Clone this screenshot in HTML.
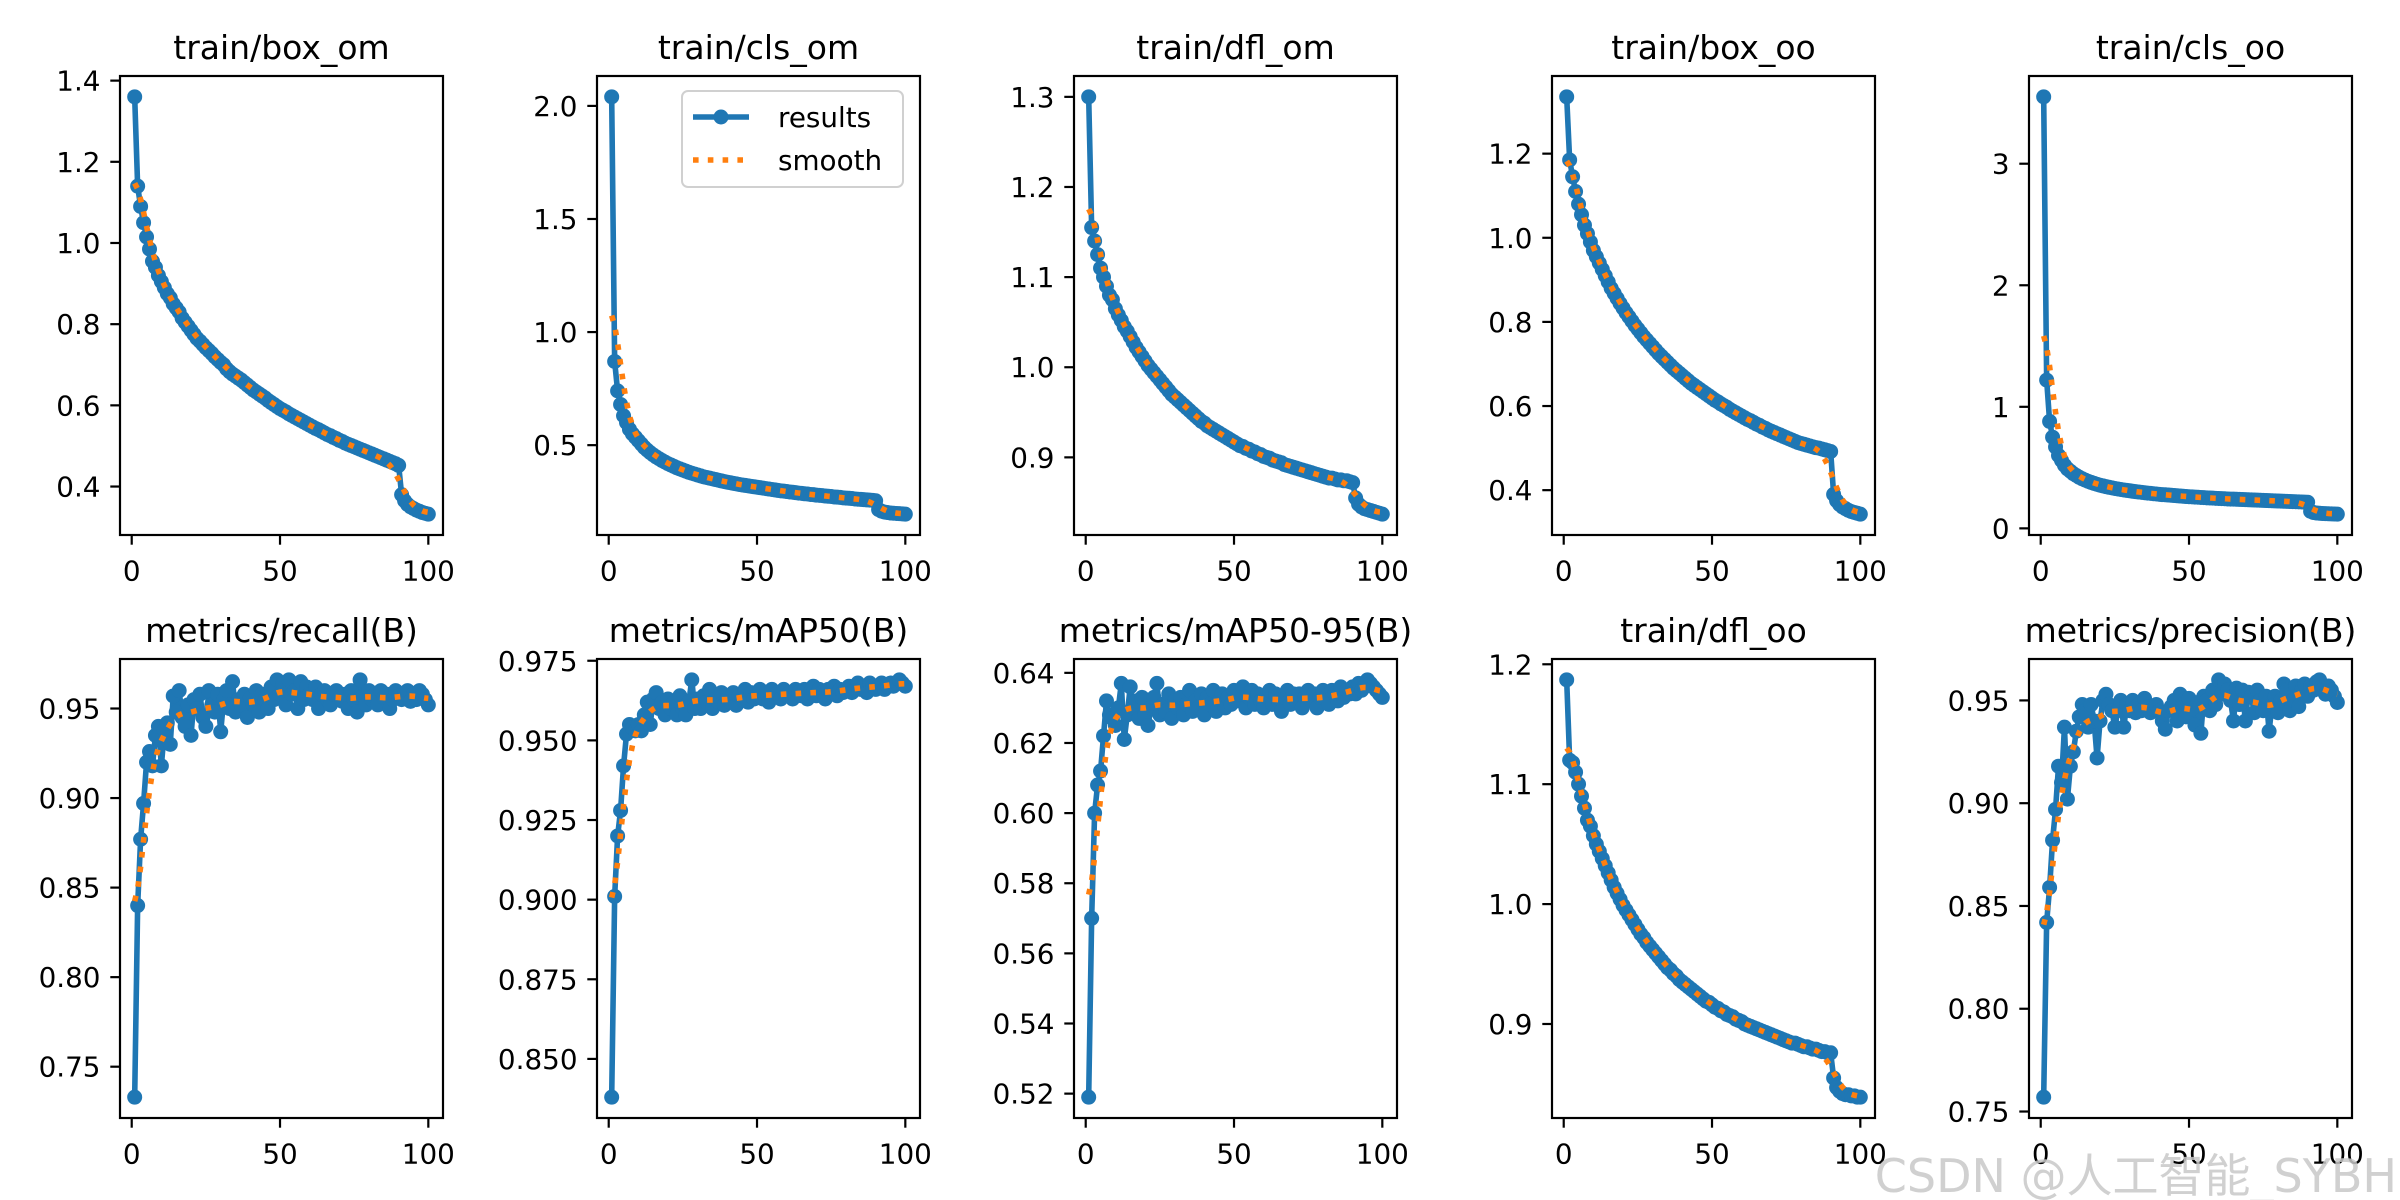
<!DOCTYPE html>
<html><head><meta charset="utf-8">
<style>
html,body{margin:0;padding:0;background:#fff;}
svg{display:block;font-family:"DejaVu Sans","Liberation Sans",sans-serif;}
</style></head>
<body>
<svg id="fig" width="2400" height="1200" viewBox="0 0 2400 1200" xmlns="http://www.w3.org/2000/svg">
<rect width="2400" height="1200" fill="#fff"/>
</svg>
<script>
const titles = ["train/box_om","train/cls_om","train/dfl_om","train/box_oo","train/cls_oo","metrics/recall(B)","metrics/mAP50(B)","metrics/mAP50-95(B)","train/dfl_oo","metrics/precision(B)"];
const xTicks = [0,50,100];
const yTicks0 = [0.4,0.6,0.8,1.0,1.2,1.4];
const yTicks1 = [0.5,1.0,1.5,2.0];
const yTicks2 = [0.9,1.0,1.1,1.2,1.3];
const yTicks3 = [0.4,0.6,0.8,1.0,1.2];
const yTicks4 = [0,1,2,3];
const yTicks5 = [0.75,0.80,0.85,0.90,0.95];
const yTicks6 = [0.85,0.875,0.9,0.925,0.95,0.975];
const yTicks7 = [0.52,0.54,0.56,0.58,0.60,0.62,0.64];
const yTicks8 = [0.9,1.0,1.1,1.2];
const yTicks9 = [0.75,0.80,0.85,0.90,0.95];
const yTickDecimals = [1,1,1,1,0,2,3,2,1,2];

const boxOm = [1.36,1.14,1.09,1.05,1.015,0.985,0.955,0.94,0.92,0.905,
0.89,0.875,0.865,0.85,0.84,0.83,0.815,0.805,0.795,0.785,
0.775,0.765,0.758,0.75,0.742,0.735,0.728,0.72,0.713,0.706,
0.70,0.69,0.683,0.677,0.672,0.667,0.662,0.656,0.65,0.644,
0.638,0.633,0.628,0.623,0.618,0.612,0.607,0.602,0.597,0.592,
0.588,0.584,0.579,0.575,0.571,0.567,0.563,0.559,0.555,0.551,
0.547,0.543,0.54,0.536,0.532,0.528,0.525,0.521,0.518,0.514,
0.511,0.507,0.504,0.501,0.498,0.495,0.492,0.489,0.486,0.483,
0.48,0.477,0.474,0.471,0.468,0.465,0.462,0.459,0.456,0.452,
0.38,0.365,0.356,0.35,0.346,0.342,0.339,0.336,0.334,0.332];
const clsOm = [2.04,0.87,0.74,0.68,0.63,0.6,0.57,0.55,0.535,0.52,
0.505,0.49,0.478,0.467,0.457,0.448,0.44,0.432,0.425,0.418,
0.412,0.406,0.4,0.395,0.39,0.385,0.38,0.376,0.372,0.368,
0.364,0.36,0.357,0.354,0.351,0.348,0.345,0.342,0.339,0.336,
0.334,0.331,0.329,0.326,0.324,0.322,0.32,0.318,0.316,0.314,
0.312,0.31,0.308,0.306,0.304,0.302,0.3,0.298,0.297,0.295,
0.293,0.292,0.29,0.288,0.287,0.285,0.284,0.282,0.281,0.279,
0.278,0.277,0.275,0.274,0.273,0.271,0.27,0.269,0.267,0.266,
0.265,0.264,0.262,0.261,0.26,0.259,0.258,0.257,0.256,0.254,
0.215,0.208,0.204,0.202,0.2,0.199,0.198,0.197,0.196,0.195];
const dflOm = [1.30,1.155,1.14,1.125,1.11,1.1,1.09,1.08,1.075,1.065,
1.058,1.052,1.045,1.04,1.034,1.028,1.022,1.017,1.012,1.007,
1.002,0.998,0.994,0.99,0.986,0.982,0.978,0.974,0.97,0.967,
0.964,0.961,0.958,0.955,0.952,0.949,0.946,0.943,0.94,0.938,
0.935,0.933,0.931,0.929,0.927,0.925,0.923,0.921,0.919,0.917,
0.915,0.913,0.912,0.91,0.909,0.907,0.906,0.904,0.903,0.901,
0.9,0.899,0.897,0.896,0.895,0.894,0.892,0.891,0.89,0.889,
0.888,0.887,0.886,0.885,0.884,0.883,0.882,0.881,0.88,0.879,
0.878,0.877,0.877,0.876,0.875,0.875,0.874,0.874,0.873,0.872,
0.855,0.848,0.845,0.843,0.842,0.841,0.84,0.839,0.838,0.837];
const boxOo = [1.335,1.185,1.145,1.11,1.08,1.055,1.03,1.01,0.99,0.97,
0.955,0.94,0.925,0.91,0.895,0.88,0.868,0.856,0.844,0.833,
0.822,0.812,0.802,0.792,0.783,0.774,0.765,0.757,0.749,0.741,
0.733,0.725,0.718,0.711,0.704,0.697,0.69,0.684,0.678,0.672,
0.666,0.66,0.654,0.649,0.644,0.639,0.634,0.629,0.624,0.619,
0.614,0.61,0.605,0.601,0.597,0.592,0.588,0.584,0.58,0.576,
0.572,0.568,0.565,0.561,0.557,0.554,0.55,0.547,0.543,0.54,
0.537,0.534,0.531,0.528,0.525,0.522,0.519,0.516,0.513,0.511,
0.509,0.507,0.505,0.503,0.501,0.5,0.498,0.496,0.494,0.492,
0.39,0.375,0.366,0.36,0.356,0.352,0.349,0.347,0.345,0.343];
const clsOo = [3.55,1.22,0.88,0.75,0.67,0.6,0.56,0.52,0.49,0.47,
0.45,0.435,0.42,0.408,0.397,0.387,0.378,0.37,0.362,0.355,
0.349,0.343,0.338,0.333,0.328,0.324,0.32,0.316,0.312,0.309,
0.305,0.302,0.299,0.296,0.293,0.29,0.288,0.285,0.283,0.28,
0.278,0.276,0.274,0.272,0.27,0.268,0.266,0.264,0.262,0.26,
0.259,0.257,0.256,0.254,0.253,0.251,0.25,0.249,0.247,0.246,
0.245,0.244,0.242,0.241,0.24,0.239,0.238,0.237,0.236,0.235,
0.234,0.233,0.232,0.231,0.23,0.229,0.228,0.227,0.226,0.225,
0.224,0.223,0.222,0.221,0.22,0.219,0.218,0.217,0.216,0.215,
0.14,0.13,0.126,0.124,0.122,0.121,0.12,0.119,0.118,0.117];
const recall = [0.733,0.84,0.877,0.897,0.92,0.926,0.918,0.935,0.94,0.918,
0.938,0.942,0.93,0.957,0.948,0.96,0.945,0.94,0.952,0.935,
0.955,0.95,0.958,0.945,0.94,0.96,0.952,0.948,0.958,0.937,
0.955,0.96,0.95,0.965,0.948,0.955,0.952,0.958,0.945,0.956,
0.952,0.96,0.948,0.958,0.955,0.95,0.962,0.955,0.966,0.958,
0.964,0.952,0.966,0.958,0.96,0.95,0.965,0.955,0.962,0.958,
0.955,0.962,0.95,0.958,0.96,0.955,0.952,0.958,0.96,0.956,
0.954,0.958,0.95,0.96,0.955,0.948,0.966,0.957,0.952,0.96,
0.955,0.958,0.952,0.96,0.956,0.958,0.95,0.955,0.96,0.957,
0.955,0.958,0.96,0.954,0.958,0.955,0.96,0.958,0.955,0.952];
const map50 = [0.838,0.901,0.92,0.928,0.942,0.952,0.955,0.954,0.953,0.955,
0.953,0.958,0.962,0.955,0.963,0.965,0.96,0.962,0.958,0.963,
0.96,0.962,0.958,0.964,0.96,0.958,0.962,0.969,0.96,0.963,
0.96,0.964,0.962,0.966,0.96,0.963,0.962,0.965,0.961,0.963,
0.962,0.965,0.961,0.964,0.963,0.966,0.962,0.965,0.963,0.964,
0.966,0.963,0.965,0.962,0.966,0.964,0.965,0.963,0.966,0.964,
0.965,0.963,0.966,0.965,0.964,0.966,0.963,0.965,0.967,0.964,
0.966,0.965,0.963,0.966,0.965,0.967,0.964,0.966,0.965,0.966,
0.967,0.965,0.966,0.968,0.966,0.967,0.965,0.968,0.967,0.966,
0.967,0.968,0.966,0.967,0.968,0.967,0.968,0.969,0.968,0.967];
const map5095 = [0.519,0.570,0.600,0.608,0.612,0.622,0.632,0.628,0.627,0.625,
0.63,0.637,0.621,0.628,0.636,0.63,0.632,0.627,0.633,0.628,
0.625,0.63,0.633,0.637,0.628,0.631,0.629,0.634,0.627,0.632,
0.63,0.633,0.628,0.631,0.635,0.629,0.632,0.63,0.634,0.628,
0.633,0.631,0.635,0.629,0.632,0.634,0.63,0.633,0.631,0.635,
0.632,0.634,0.636,0.63,0.633,0.635,0.631,0.634,0.632,0.63,
0.633,0.635,0.631,0.634,0.632,0.629,0.633,0.635,0.631,0.634,
0.632,0.634,0.63,0.633,0.635,0.632,0.634,0.63,0.633,0.635,
0.633,0.631,0.635,0.634,0.632,0.636,0.633,0.635,0.634,0.636,
0.634,0.637,0.635,0.636,0.638,0.637,0.636,0.635,0.634,0.633];
const dflOo = [1.187,1.12,1.118,1.11,1.1,1.09,1.08,1.07,1.065,1.057,
1.05,1.044,1.038,1.032,1.026,1.02,1.014,1.009,1.004,0.999,
0.995,0.991,0.987,0.983,0.979,0.975,0.972,0.968,0.965,0.962,
0.959,0.956,0.953,0.95,0.947,0.945,0.942,0.94,0.937,0.935,
0.933,0.931,0.929,0.927,0.925,0.923,0.921,0.919,0.918,0.916,
0.914,0.913,0.911,0.91,0.908,0.907,0.906,0.904,0.903,0.902,
0.9,0.899,0.898,0.897,0.896,0.895,0.894,0.893,0.892,0.891,
0.89,0.889,0.888,0.887,0.886,0.885,0.884,0.884,0.883,0.882,
0.881,0.881,0.88,0.879,0.879,0.878,0.877,0.877,0.876,0.876,
0.855,0.847,0.844,0.842,0.841,0.841,0.84,0.84,0.839,0.839];
const precision = [0.757,0.842,0.859,0.882,0.897,0.918,0.91,0.937,0.902,0.918,
0.925,0.935,0.942,0.948,0.945,0.937,0.948,0.94,0.922,0.94,
0.95,0.953,0.948,0.945,0.937,0.945,0.95,0.937,0.948,0.945,
0.95,0.944,0.948,0.945,0.951,0.947,0.944,0.946,0.948,0.945,
0.94,0.936,0.945,0.947,0.95,0.94,0.953,0.948,0.942,0.951,
0.946,0.938,0.949,0.934,0.952,0.95,0.945,0.955,0.948,0.96,
0.953,0.958,0.955,0.95,0.94,0.956,0.948,0.955,0.94,0.954,
0.952,0.944,0.955,0.95,0.945,0.952,0.935,0.948,0.952,0.944,
0.95,0.958,0.955,0.945,0.95,0.957,0.947,0.955,0.958,0.952,
0.957,0.955,0.959,0.96,0.955,0.953,0.957,0.955,0.952,0.949];

const series = [boxOm,clsOm,dflOm,boxOo,clsOo,recall,map50,map5095,dflOo,precision];
const yTicksAll = [yTicks0,yTicks1,yTicks2,yTicks3,yTicks4,yTicks5,yTicks6,yTicks7,yTicks8,yTicks9];

const NS = "http://www.w3.org/2000/svg";
const fig = document.getElementById('fig');
function mk(tag, attrs, parent){
  const e = document.createElementNS(NS, tag);
  for (const k in attrs) e.setAttribute(k, attrs[k]);
  (parent||fig).appendChild(e);
  return e;
}
function gauss(y, sigma){
  const r = Math.round(4*sigma), w = [];
  let s = 0;
  for (let i=-r;i<=r;i++){ const v=Math.exp(-0.5*i*i/(sigma*sigma)); w.push(v); s+=v; }
  const n = y.length, out = [];
  const idx = j => { while (j<0||j>=n){ if (j<0) j=-j-1; if (j>=n) j=2*n-j-1; } return j; };
  for (let i=0;i<n;i++){ let a=0; for (let k=-r;k<=r;k++) a+=w[k+r]*y[idx(i+k)]; out.push(a/s); }
  return out;
}
const AX_W = 323, AX_H = 459;
const lefts = [120,597,1074,1552,2029];
const tops = [76,659];
const BLUE = "#1f77b4", ORANGE = "#ff7f0e";

series.forEach((ys, p) => {
  const L = lefts[p%5], T = tops[Math.floor(p/5)];
  const g = mk('g', {});
  
  
  const xs = ys.map((_,i)=>i+1);
  const xmin = 1, xmax = xs.length, xm = (xmax-xmin)*0.05;
  const ymin = Math.min(...ys), ymax = Math.max(...ys), ym = (ymax-ymin)*0.05;
  const lo = ymin-ym, hi = ymax+ym;
  const X = v => L + (v-(xmin-xm))/((xmax+xm)-(xmin-xm))*AX_W;
  const Y = v => T + AX_H - (v-lo)/(hi-lo)*AX_H;
  const cid = 'clip'+p;
  const cp = mk('clipPath', {id:cid}, g);
  mk('rect', {x:L, y:T, width:AX_W, height:AX_H}, cp);
  const t = mk('text', {x:L+AX_W/2, y:T-17, 'text-anchor':'middle', 'font-size':33, fill:'#000'}, g);
  t.textContent = titles[p];
  
  
  xTicks.forEach(v => {
    const x = X(v);
    mk('line', {x1:x, x2:x, y1:T+AX_H, y2:T+AX_H+9.7, stroke:'#000', 'stroke-width':2.2}, g);
    const tl = mk('text', {x:x, y:T+AX_H+19.5+26, 'text-anchor':'middle', 'font-size':27.8, fill:'#000'}, g);
    tl.textContent = String(v);
    
    
  });
  yTicksAll[p].forEach(v => {
    if (v < lo - 1e-9 || v > hi + 1e-9) return;
    const y = Y(v);
    mk('line', {x1:L-9.7, x2:L, y1:y, y2:y, stroke:'#000', 'stroke-width':2.2}, g);
    const tl = mk('text', {x:L-19.5, y:y+10, 'text-anchor':'end', 'font-size':27.8, fill:'#000'}, g);
    tl.textContent = v.toFixed(yTickDecimals[p]);
    
    
  });
  const plot = mk('g', {'clip-path':'url(#'+cid+')'}, g);
  const pts = ys.map((v,i)=>X(xs[i]).toFixed(2)+','+Y(v).toFixed(2)).join(' ');
  const line = mk('polyline', {points:pts, fill:'none', stroke:BLUE, 'stroke-width':5.6, 'stroke-linejoin':'round'}, plot);
  
  
  ys.forEach((v,i) => {
    const c = mk('circle', {cx:X(xs[i]), cy:Y(v), r:7.5, fill:BLUE}, plot);
    
    
  });
  const sm = gauss(ys, 3);
  const spts = sm.map((v,i)=>X(xs[i]).toFixed(2)+','+Y(v).toFixed(2)).join(' ');
  const sl = mk('polyline', {points:spts, fill:'none', stroke:ORANGE, 'stroke-width':5.6, 'stroke-dasharray':'5.6 9.2'}, plot);
  
  
  const fr = mk('rect', {x:L, y:T, width:AX_W, height:AX_H, fill:'none', stroke:'#000', 'stroke-width':2.2}, g);
  
  
});

const lg = mk('g', {});


mk('rect', {x:682, y:91, width:221, height:96, rx:6, fill:'#fff', 'fill-opacity':0.8, stroke:'#d0d0d0', 'stroke-width':2}, lg);
mk('line', {x1:693, x2:749, y1:117, y2:117, stroke:BLUE, 'stroke-width':5.6}, lg);
mk('circle', {cx:721, cy:117, r:7.5, fill:BLUE}, lg);
const l1 = mk('text', {x:778, y:127, 'font-size':27.8, fill:'#000'}, lg);
l1.textContent = 'results';


mk('line', {x1:693, x2:749, y1:160, y2:160, stroke:ORANGE, 'stroke-width':5.6, 'stroke-dasharray':'5.6 9.2'}, lg);
const l2 = mk('text', {x:778, y:170, 'font-size':27.8, fill:'#000'}, lg);
l2.textContent = 'smooth';



const wm = mk('text', {x:2397, y:1192, 'text-anchor':'end', 'font-size':46, fill:'#c8c8c8', 'fill-opacity':0.85, 'font-family':'"DejaVu Sans","Noto Sans CJK SC",sans-serif'});
wm.textContent = 'CSDN @人工智能_SYBH';


</script>
</body></html>
